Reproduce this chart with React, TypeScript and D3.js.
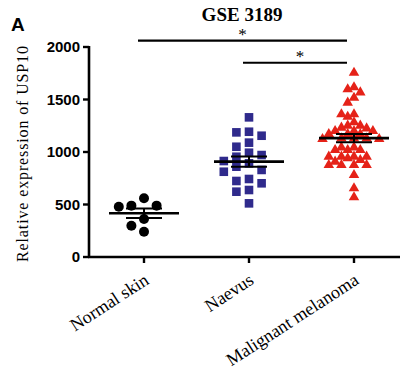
import React from 'react'
import * as d3 from 'd3'

const groups = ['Normal skin', 'Naevus', 'Malignant melanoma']

const normalSkin = [559, 479, 489, 489, 362, 298, 241]

const naevus = [1330, 1187, 1155, 1193, 1089, 1050, 993, 971, 955, 914, 860, 892, 829, 812,
    743, 702, 724, 638, 622, 511]

const melanoma = [1755, 1616, 1568, 1597, 1517, 1470, 1359, 1336, 1359, 1251, 1283, 1251, 1232,
    1200, 1225, 1200, 1200, 1124, 1130, 1130, 1130, 1124, 1171, 1171, 1171, 1019, 1044, 1044,
    1019, 1019, 956, 956, 940, 956, 956, 876, 876, 908, 924, 876, 876, 781, 654, 569]

const yTicks = [0, 500, 1000, 1500, 2000]

// significance brackets, level in data units
const comparisons = [
    { from: 'Normal skin', to: 'Malignant melanoma', level: 2060, label: '*' },
    { from: 'Naevus', to: 'Malignant melanoma', level: 1850, label: '*' },
]

const seriesValues = [normalSkin, naevus, melanoma]
const colors = ['#000000', '#2f2a8c', '#e52218']
const shapes = ['circle', 'square', 'triangle']

// simple beeswarm: put each point as close to the centre as it can go
function swarm(vals: number[], y: (v: number) => number, size: number, step: number) {
    const placed: { x: number; y: number; v: number }[] = []
    const order = vals.slice().sort((a, b) => b - a)
    order.forEach(v => {
        const py = y(v)
        for (let k = 0; k < 40; k++) {
            const off = (k % 2 === 0 ? 1 : -1) * Math.ceil(k / 2) * step
            const hit = placed.some(p => Math.hypot(p.x - off, p.y - py) < size)
            if (!hit) {
                placed.push({ x: off, y: py, v })
                break
            }
        }
    })
    return placed
}

export default function App() {
    const width = 404
    const height = 370

    const y = d3.scaleLinear().domain([0, 2000]).range([257, 47])
    const x = d3.scalePoint<string>().domain(groups).range([144, 354])

    const axisX0 = 89

    function marker(shape: string, cx: number, cy: number, color: string, key: number) {
        if (shape === 'circle') return <circle key={key} cx={cx} cy={cy} r={5} fill={color} />
        if (shape === 'square') return <rect key={key} x={cx - 4.3} y={cy - 4.3} width={8.6} height={8.6} fill={color} />
        const tri = d3.symbol(d3.symbolTriangle, 48)()
        return <path key={key} d={tri as string} transform={`translate(${cx},${cy})`} fill={color} />
    }

    return (
        <svg width={width} height={height} style={{ position: 'absolute', left: 0, top: 0, background: '#fff' }}>
            <text x={11} y={31} fontFamily="Liberation Sans, Arial" fontWeight="bold" fontSize={19}>A</text>
            <text x={242} y={21} textAnchor="middle" fontFamily="Liberation Serif, Times New Roman" fontWeight="bold" fontSize={19}>GSE 3189</text>

            {/* y axis */}
            <line x1={axisX0} x2={axisX0} y1={y(2000) - 1} y2={y(0) + 1} stroke="#000" strokeWidth={2.6} />
            {yTicks.map(t => (
                <g key={t}>
                    <line x1={axisX0 - 6} x2={axisX0} y1={y(t)} y2={y(t)} stroke="#000" strokeWidth={2.4} />
                    <text x={axisX0 - 9} y={y(t) + 5} textAnchor="end" fontFamily="Liberation Sans, Arial" fontWeight="bold" fontSize={15}>{t}</text>
                </g>
            ))}
            <text transform={`translate(28,154) rotate(-90)`} textAnchor="middle" fontFamily="Liberation Serif, Times New Roman" fontSize={16} textLength={216}>Relative expression of USP10</text>

            {/* x axis */}
            <line x1={axisX0 - 1} x2={400} y1={y(0)} y2={y(0)} stroke="#000" strokeWidth={2.6} />
            {groups.map(g => (
                <g key={g}>
                    <line x1={x(g)} x2={x(g)} y1={y(0)} y2={y(0) + 6} stroke="#000" strokeWidth={2.4} />
                    <text transform={`translate(${(x(g) as number) + 6},${y(0) + 26}) rotate(-33)`} textAnchor="end" fontFamily="Liberation Serif, Times New Roman" fontSize={18}>{g}</text>
                </g>
            ))}

            {/* points, mean and SEM */}
            {seriesValues.map((vals, i) => {
                const cx = x(groups[i]) as number
                const tri = shapes[i] === 'triangle'
                const pts = swarm(vals, y, tri ? 6.5 : 9.5, tri ? 6.3 : 12.6)
                const mean = d3.mean(vals) as number
                const sem = (d3.deviation(vals) as number) / Math.sqrt(vals.length)
                return (
                    <g key={i}>
                        {pts.map((p, j) => marker(shapes[i], cx + p.x, p.y, colors[i], j))}
                        <line x1={cx - 35} x2={cx + 35} y1={y(mean)} y2={y(mean)} stroke="#000" strokeWidth={2.6} />
                        <line x1={cx - 18} x2={cx + 18} y1={y(mean + sem)} y2={y(mean + sem)} stroke="#000" strokeWidth={2} />
                        <line x1={cx - 18} x2={cx + 18} y1={y(mean - sem)} y2={y(mean - sem)} stroke="#000" strokeWidth={2} />
                        <line x1={cx} x2={cx} y1={y(mean + sem)} y2={y(mean - sem)} stroke="#000" strokeWidth={2} />
                    </g>
                )
            })}

            {/* significance */}
            {comparisons.map((c, i) => {
                const x1 = (x(c.from) as number) - 6
                const x2 = (x(c.to) as number) - 7
                return (
                    <g key={i}>
                        <line x1={x1} x2={x2} y1={y(c.level)} y2={y(c.level)} stroke="#000" strokeWidth={2.2} />
                        <text x={(x1 + x2) / 2 + (i === 1 ? 5 : 0)} y={y(c.level) - 1} textAnchor="middle" fontFamily="Liberation Serif, Times New Roman" fontSize={17}>{c.label}</text>
                    </g>
                )
            })}
        </svg>
    )
}
